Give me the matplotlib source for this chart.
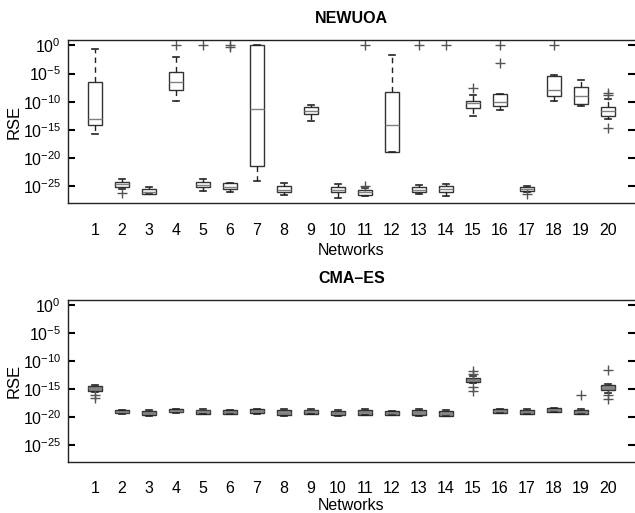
import numpy as np
import matplotlib
matplotlib.use("Agg")
import matplotlib.pyplot as plt

plt.rcParams['font.family'] = ['Liberation Sans', 'DejaVu Sans']
plt.rcParams['mathtext.fontset'] = 'custom'
plt.rcParams['mathtext.rm'] = 'Liberation Sans'
plt.rcParams['mathtext.it'] = 'Liberation Sans:italic'
plt.rcParams['mathtext.bf'] = 'Liberation Sans:bold'

networks = list(range(1, 21))

# NEWUOA — log10 of RSE statistics
newuoa_whislo = [-15.7, -25.5, -26.4, -9.8, -25.9, -26.1, -24.1, -26.6, -13.4, -27.0,
                 -26.7, -19.0, -26.3, -26.8, -12.5, -11.5, -26.0, -9.85, -10.75, -13.1]
newuoa_q1 = [-14.1, -25.1, -26.3, -7.9, -25.2, -25.5, -21.4, -26.1, -12.2, -26.1,
             -26.5, -19.0, -26.0, -26.0, -11.2, -10.7, -25.9, -8.95, -10.4, -12.5]
newuoa_med = [-13.0, -24.6, -26.0, -6.5, -24.7, -25.1, -11.3, -25.6, -11.6, -25.6,
              -26.1, -14.2, -25.6, -25.5, -10.3, -10.1, -25.5, -7.85, -8.9, -11.6]
newuoa_q3 = [-6.5, -24.2, -25.5, -4.7, -24.2, -24.5, 0.0, -25.0, -11.0, -25.1,
             -25.7, -8.2, -25.1, -25.0, -9.85, -8.7, -25.1, -5.5, -7.3, -11.0]
newuoa_whishi = [-0.6, -23.75, -25.1, -2.0, -23.75, -24.5, 0.0, -24.5, -10.5, -24.6,
                 -25.4, -1.66, -24.8, -24.6, -8.85, -8.55, -24.9, -5.3, -6.1, -9.55]
newuoa_fliers = [[], [-26.2], [], [0.0], [0.0], [0.0, -0.3], [], [], [], [],
                 [0.0, -24.9], [], [0.0], [0.0], [-7.6], [0.0, -3.2], [-26.4], [0.0], [],
                 [-8.4, -8.85, -14.6]]

# CMA-ES — log10 of RSE statistics
cma_whislo = [-15.6, -19.4, -19.8, -19.2, -19.5, -19.5, -19.45, -19.8, -19.5, -19.8,
              -19.7, -19.65, -19.75, -19.9, -13.9, -19.3, -19.5, -19.15, -19.5, -15.7]
cma_q1 = [-15.3, -19.3, -19.7, -19.1, -19.4, -19.4, -19.35, -19.65, -19.4, -19.65,
          -19.55, -19.55, -19.6, -19.8, -13.7, -19.2, -19.4, -19.05, -19.4, -15.2]
cma_med = [-14.85, -19.05, -19.35, -18.85, -19.0, -19.1, -18.98, -19.2, -19.0, -19.3,
           -19.1, -19.25, -19.1, -19.4, -13.3, -18.9, -19.05, -18.7, -19.05, -14.8]
cma_q3 = [-14.45, -18.8, -19.0, -18.6, -18.7, -18.8, -18.6, -18.75, -18.65, -18.9,
          -18.75, -18.9, -18.75, -18.9, -13.0, -18.6, -18.7, -18.4, -18.7, -14.3]
cma_whishi = [-14.3, -18.7, -18.8, -18.5, -18.5, -18.7, -18.5, -18.6, -18.5, -18.8,
              -18.6, -18.85, -18.6, -18.8, -12.7, -18.5, -18.6, -18.3, -18.6, -14.0]
cma_fliers = [[-16.0, -16.5], [], [], [], [], [], [], [], [], [], [], [], [], [],
              [-11.8, -12.3, -14.6, -15.3], [], [], [], [-16.1], [-11.6, -16.1, -16.7]]

ytick_exps = [0, -5, -10, -15, -20, -25]


def make_stats(wlo, q1, med, q3, whi, fl):
    stats = []
    for i in range(len(med)):
        stats.append(dict(whislo=10 ** wlo[i], q1=10 ** q1[i], med=10 ** med[i],
                          q3=10 ** q3[i], whishi=10 ** whi[i],
                          fliers=np.array([10 ** f for f in fl[i]])))
    return stats


def draw(ax, stats, title, facecolor, xlabelpad):
    ax.bxp(stats, positions=networks, widths=0.5, capwidths=0.25, patch_artist=True,
           showfliers=True,
           boxprops=dict(facecolor=facecolor, edgecolor='#333333', linewidth=1.0),
           medianprops=dict(color='#808080', linewidth=1.0),
           whiskerprops=dict(color='#222222', linewidth=1.0, linestyle=(0, (4, 3))),
           capprops=dict(color='#222222', linewidth=1.2),
           flierprops=dict(marker='+', markersize=7, markeredgecolor='#555555',
                           markeredgewidth=1.0, linestyle='none'))
    ax.set_yscale('log')
    ax.set_ylim(1e-28, 10 ** 0.95)
    ax.set_xlim(0.0, 21.0)
    ax.set_yticks([10.0 ** e for e in ytick_exps])
    ax.set_yticklabels([r'$10^{%d}$' % e for e in ytick_exps])
    ax.yaxis.set_minor_locator(matplotlib.ticker.NullLocator())
    ax.set_xticks(networks)
    ax.set_xticklabels([str(n) for n in networks])
    ax.tick_params(axis='x', length=0, pad=14, labelsize=11.5)
    ax.tick_params(axis='y', which='major', direction='in', length=5, width=1.5,
                   left=True, right=True, labelsize=11.5, pad=5)
    for s in ['left', 'top', 'bottom']:
        ax.spines[s].set_linewidth(1.0)
        ax.spines[s].set_color('#222222')
    ax.spines['right'].set_visible(False)
    ax.set_xlabel('Networks', fontsize=11.5, labelpad=xlabelpad)
    ax.set_ylabel('RSE', fontsize=12, labelpad=1)
    ax.set_title(title, fontsize=11.5, fontweight='bold', pad=12)


fig = plt.figure(figsize=(6.35, 5.13), dpi=100)
ax1 = fig.add_axes([0.107, 0.604, 0.893, 0.318])
ax2 = fig.add_axes([0.107, 0.100, 0.893, 0.315])

draw(ax1, make_stats(newuoa_whislo, newuoa_q1, newuoa_med, newuoa_q3, newuoa_whishi,
                     newuoa_fliers), 'NEWUOA', 'white', 4)
draw(ax2, make_stats(cma_whislo, cma_q1, cma_med, cma_q3, cma_whishi, cma_fliers),
     'CMA–ES', '#8c8c8c', 1)

fig.savefig('out.png', dpi=100)
